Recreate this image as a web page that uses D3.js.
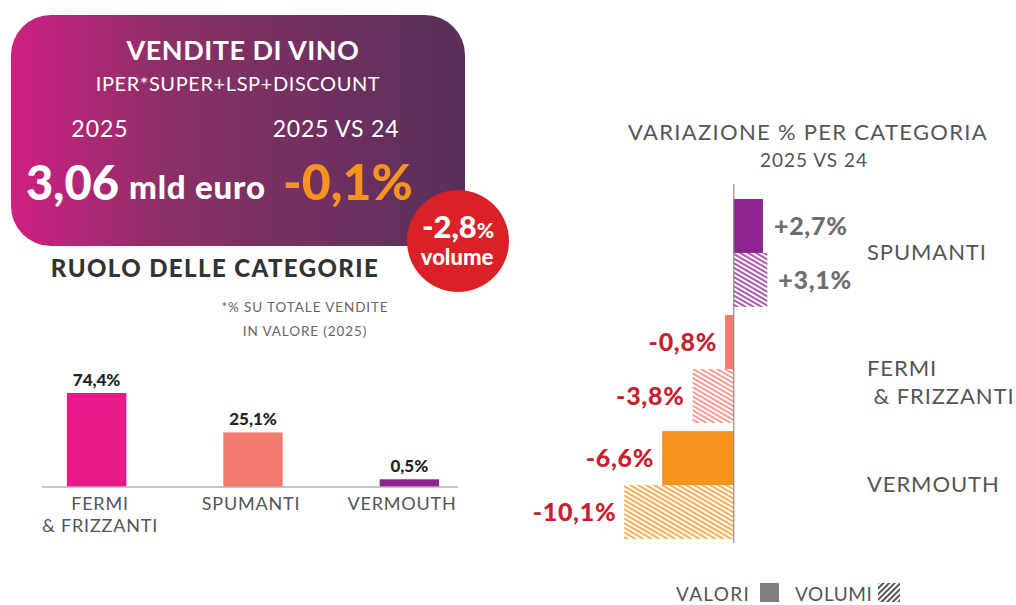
<!DOCTYPE html>
<html>
<head>
<meta charset="utf-8">
<script src="https://cdn.jsdelivr.net/npm/d3@7"></script>
<style>
  html, body { margin: 0; padding: 0; background: #fff; }
  svg { display: block; font-family: Lato, "Open Sans", sans-serif; }
</style>
</head>
<body>
<svg id="chart" width="1016" height="605"></svg>
<script>
// ---- Data ----
const shareCategories = ["FERMI\n& FRIZZANTI", "SPUMANTI", "VERMOUTH"];
const shareValues = [74.4, 25.1, 0.5];
const shareLabels = ["74,4%", "25,1%", "0,5%"];
const shareColors = ["#e8178a", "#f47c6e", "#8e248f"];

const varCategories = ["SPUMANTI", "FERMI\n & FRIZZANTI", "VERMOUTH"];
const varValori = [2.7, -0.8, -6.6];
const varVolumi = [3.1, -3.8, -10.1];
const varValoriLabels = ["+2,7%", "-0,8%", "-6,6%"];
const varVolumiLabels = ["+3,1%", "-3,8%", "-10,1%"];
const varColors = ["#8e248f", "#f47c6e", "#f7941d"];
const series = ["VALORI", "VOLUMI"];

const svg = d3.select("#chart");
const defs = svg.append("defs");

// gradient for header box
const grad = defs.append("linearGradient").attr("id", "hdr").attr("x1", "0").attr("x2", "1").attr("y1", "0").attr("y2", "0");
grad.append("stop").attr("offset", "0").attr("stop-color", "#d01f83");
grad.append("stop").attr("offset", "0.35").attr("stop-color", "#8a3067");
grad.append("stop").attr("offset", "1").attr("stop-color", "#58305a");

// hatch patterns
varColors.forEach((c, i) => {
  const p = defs.append("pattern").attr("id", "hatch" + i)
    .attr("patternUnits", "userSpaceOnUse").attr("width", 4).attr("height", 4)
    .attr("patternTransform", "rotate(30)");
  p.append("rect").attr("width", 4).attr("height", 4).attr("fill", "#fff");
  p.append("rect").attr("width", 4).attr("height", 2).attr("fill", c).attr("opacity", 0.75);
});
const lp = defs.append("pattern").attr("id", "hatchLegend")
  .attr("patternUnits", "userSpaceOnUse").attr("width", 4).attr("height", 4)
  .attr("patternTransform", "rotate(-45)");
lp.append("rect").attr("width", 4).attr("height", 4).attr("fill", "#fff");
lp.append("rect").attr("width", 4).attr("height", 2).attr("fill", "#555");

// ---- Header box ----
svg.append("rect").attr("x", 11).attr("y", 15).attr("width", 454).attr("height", 231)
  .attr("rx", 40).attr("fill", "url(#hdr)");
const hdr = svg.append("g").attr("fill", "#fff");
hdr.append("text").attr("x", 243).attr("y", 60).attr("text-anchor", "middle")
  .attr("font-size", 27).attr("font-weight", 700).attr("letter-spacing", 0.5).text("VENDITE DI VINO");
hdr.append("text").attr("x", 238).attr("y", 91).attr("text-anchor", "middle")
  .attr("font-size", 20).attr("font-weight", 400).attr("letter-spacing", 0.6).text("IPER*SUPER+LSP+DISCOUNT");
hdr.append("text").attr("x", 100).attr("y", 137).attr("text-anchor", "middle")
  .attr("font-size", 23).attr("font-weight", 400).attr("letter-spacing", 1).text("2025");
hdr.append("text").attr("x", 336).attr("y", 137).attr("text-anchor", "middle")
  .attr("font-size", 23).attr("font-weight", 400).attr("letter-spacing", 0.8).text("2025 VS 24");
hdr.append("text").attr("x", 26).attr("y", 200).attr("font-weight", 900)
  .attr("font-size", 47).text("3,06");
hdr.append("text").attr("x", 129).attr("y", 199).attr("font-weight", 900)
  .attr("font-size", 33).attr("letter-spacing", 0.8).text("mld euro");
hdr.append("text").attr("x", 283).attr("y", 200).attr("font-weight", 900)
  .attr("font-size", 50).attr("fill", "#f7941d").text("-0,1%");

// red circle
svg.append("circle").attr("cx", 458).attr("cy", 241).attr("r", 51).attr("fill", "#da2128");
const ct = svg.append("text").attr("x", 458).attr("y", 238).attr("text-anchor", "middle")
  .attr("fill", "#fff").attr("font-weight", 900);
ct.append("tspan").attr("font-size", 31).text("-2,8");
ct.append("tspan").attr("font-size", 21).text("%");
svg.append("text").attr("x", 457).attr("y", 265).attr("text-anchor", "middle")
  .attr("fill", "#fff").attr("font-weight", 900).attr("font-size", 22).text("volume");

// ---- Left chart: ruolo delle categorie ----
svg.append("text").attr("x", 215).attr("y", 277).attr("text-anchor", "middle")
  .attr("font-size", 24).attr("font-weight", 900).attr("letter-spacing", 1.4).attr("fill", "#333").text("RUOLO DELLE CATEGORIE");
svg.append("text").attr("x", 305).attr("y", 312).attr("text-anchor", "middle")
  .attr("font-size", 13.5).attr("letter-spacing", 0.9).attr("fill", "#666").text("*% SU TOTALE VENDITE");
svg.append("text").attr("x", 305).attr("y", 336).attr("text-anchor", "middle")
  .attr("font-size", 13.5).attr("letter-spacing", 0.9).attr("fill", "#666").text("IN VALORE (2025)");

const lx = d3.scaleBand().domain(shareCategories).range([45, 461]).paddingInner(0.62).paddingOuter(0.14);
const lxLabel = d3.scalePoint().domain(shareCategories).range([100, 402]);
const base = 487;
const ly = d3.scaleSqrt().domain([0, 74.4]).range([base, 393]);

const lg = svg.append("g");
lg.selectAll("rect.bar").data(shareValues).join("rect").attr("class", "bar")
  .attr("x", (d, i) => lx(shareCategories[i]))
  .attr("width", lx.bandwidth())
  .attr("y", d => Math.min(ly(d), base - 2))
  .attr("height", d => Math.max(base - ly(d), 2))
  .attr("fill", (d, i) => shareColors[i]);
lg.append("line").attr("x1", 42).attr("x2", 458).attr("y1", base).attr("y2", base)
  .attr("stroke", "#b3b3b3").attr("stroke-width", 1.5);
lg.selectAll("text.val").data(shareValues).join("text").attr("class", "val")
  .attr("x", (d, i) => lx(shareCategories[i]) + lx.bandwidth() / 2)
  .attr("y", d => Math.min(ly(d), base - 2) - 7)
  .attr("text-anchor", "middle").attr("font-size", 17).attr("font-weight", 900).attr("fill", "#222")
  .text((d, i) => shareLabels[i]);
lg.selectAll("text.cat").data(shareCategories).join("text").attr("class", "cat")
  .attr("x", d => lxLabel(d))
  .attr("y", 510).attr("text-anchor", "middle").attr("font-size", 18).attr("letter-spacing", 0.8).attr("fill", "#555")
  .each(function(d) {
    const x = d3.select(this).attr("x");
    d3.select(this).selectAll("tspan").data(d.split("\n")).join("tspan")
      .attr("x", x).attr("dy", (l, j) => j === 0 ? 0 : 22).text(l => l);
  });

// ---- Right chart: variazione ----
svg.append("text").attr("x", 808).attr("y", 140).attr("text-anchor", "middle")
  .attr("font-size", 22).attr("letter-spacing", 1.3).attr("fill", "#555").text("VARIAZIONE % PER CATEGORIA");
svg.append("text").attr("x", 814).attr("y", 167).attr("text-anchor", "middle")
  .attr("font-size", 19).attr("letter-spacing", 1).attr("fill", "#555").text("2025 VS 24");

const rx = d3.scaleLinear().domain([-10.1, 3.1]).range([624.3, 767.3]);
const x0 = rx(0);
const ry = d3.scaleBand().domain(varCategories).range([199, 539]).paddingInner(0.07).paddingOuter(0);
const sub = d3.scaleBand().domain(series).range([0, ry.bandwidth()]);

const rg = svg.append("g");
const rows = [];
varCategories.forEach((c, i) => {
  rows.push({ cat: c, s: "VALORI", v: varValori[i], lab: varValoriLabels[i], i });
  rows.push({ cat: c, s: "VOLUMI", v: varVolumi[i], lab: varVolumiLabels[i], i });
});
rg.selectAll("rect").data(rows).join("rect")
  .attr("x", d => Math.min(rx(d.v), x0))
  .attr("width", d => Math.abs(rx(d.v) - x0))
  .attr("y", d => ry(d.cat) + sub(d.s))
  .attr("height", sub.bandwidth())
  .attr("fill", d => d.s === "VALORI" ? varColors[d.i] : `url(#hatch${d.i})`);
rg.append("line").attr("x1", x0).attr("x2", x0).attr("y1", 184).attr("y2", 543)
  .attr("stroke", "#8c8c8c").attr("stroke-width", 1.2);
rg.selectAll("text.lab").data(rows).join("text").attr("class", "lab")
  .attr("x", d => d.v >= 0 ? rx(d.v) + 11 : rx(d.v) - 8)
  .attr("y", d => ry(d.cat) + sub(d.s) + sub.bandwidth() / 2 + 9)
  .attr("text-anchor", d => d.v >= 0 ? "start" : "end")
  .attr("font-size", 25).attr("font-weight", 900).attr("letter-spacing", 0.7)
  .attr("fill", d => d.v >= 0 ? "#6d6e71" : "#c8202f")
  .text(d => d.lab);
rg.selectAll("text.cat").data(varCategories).join("text").attr("class", "cat")
  .attr("x", 867)
  .attr("y", d => ry(d) + ry.bandwidth() / 2 + 7)
  .attr("font-size", 22).attr("letter-spacing", 0.9).attr("fill", "#555")
  .style("white-space", "pre")
  .each(function(d) {
    d3.select(this).selectAll("tspan").data(d.split("\n")).join("tspan")
      .attr("x", 867).attr("dy", (l, j) => j === 0 ? 0 : 28).text(l => l);
  });

// legend
const leg = svg.append("g");
leg.append("text").attr("x", 676).attr("y", 601).attr("font-size", 19).attr("letter-spacing", 1.3).attr("fill", "#555").text(series[0]);
leg.append("rect").attr("x", 760).attr("y", 583).attr("width", 19).attr("height", 19).attr("fill", "#808080");
leg.append("text").attr("x", 795).attr("y", 601).attr("font-size", 19).attr("letter-spacing", 0.6).attr("fill", "#555").text(series[1]);
leg.append("rect").attr("x", 878).attr("y", 583).attr("width", 22).attr("height", 19).attr("fill", "url(#hatchLegend)");
</script>
</body>
</html>
